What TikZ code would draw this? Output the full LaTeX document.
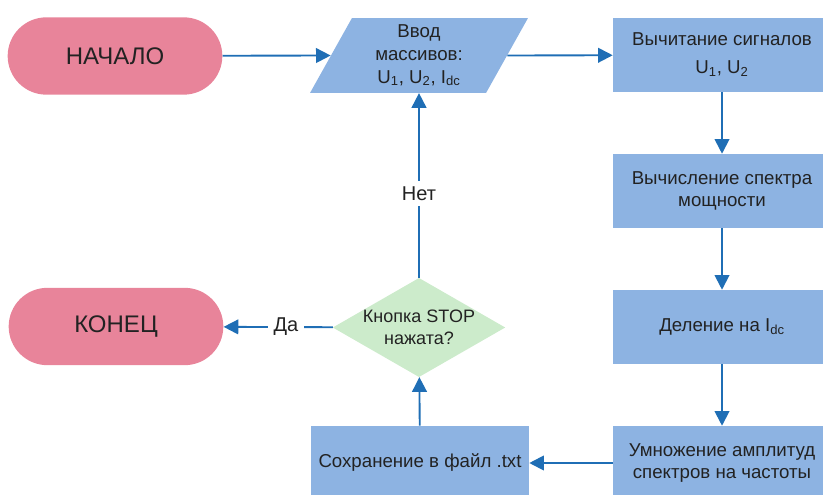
\documentclass[tikz,border=0pt]{standalone}
\usepackage{fontspec}
\setmainfont{Liberation Sans}
\usetikzlibrary{shapes.geometric,arrows.meta}
\definecolor{boxblue}{HTML}{8DB3E2}
\definecolor{termpink}{HTML}{E8849A}
\definecolor{askgreen}{HTML}{CCEBCB}
\definecolor{arrblue}{HTML}{1F6EB5}
\definecolor{txtgray}{HTML}{222222}
\begin{document}
\begin{tikzpicture}[x=0.75pt,y=-0.75pt,
  every node/.style={text=txtgray,align=center},
  proc/.style={rectangle,fill=boxblue,minimum width=163.5pt,minimum height=55.5pt,font=\fontsize{14}{17}\selectfont},
  term/.style={rectangle,rounded corners=29pt,fill=termpink,minimum width=161pt,minimum height=58pt,font=\fontsize{18}{22}\selectfont},
  io/.style={trapezium,trapezium left angle=66,trapezium right angle=114,trapezium stretches=true,fill=boxblue,minimum width=163.5pt,minimum height=56pt,inner sep=0pt,font=\fontsize{14}{17}\selectfont},
  ask/.style={diamond,aspect=1.74,fill=askgreen,minimum width=129pt,minimum height=74pt,inner sep=0pt,font=\fontsize{13.5}{16.5}\selectfont},
  arr/.style={draw=arrblue,line width=1.4pt,-{Triangle[length=11pt,width=11pt]}},
  lbl/.style={fill=white,inner sep=4pt,font=\fontsize{15}{18}\selectfont}]
 \useasboundingbox (0,0) rectangle (823,495);
 \node[term] (start) at (115,56) {НАЧАЛО};
 \node[io] (input) at (419,55.5) {Ввод\\массивов:\\U\textsubscript{1}, U\textsubscript{2}, I\textsubscript{dc}};
 \node[proc] (sub) at (722,55) {Вычитание сигналов\\[4pt]U\textsubscript{1}, U\textsubscript{2}};
 \node[proc] (spec) at (722,191) {Вычисление спектра\\мощности};
 \node[proc] (div) at (722,327) {Деление на I\textsubscript{dc}};
 \node[proc] (mul) at (722,463) {Умножение амплитуд\\спектров на частоты};
 \node[proc] (save) at (420,463) {Сохранение в файл .txt};
 \node[ask] (stop) at (419,327.5) {Кнопка STOP\\нажата?};
 \node[term] (finish) at (116,326.5) {КОНЕЦ};
 \draw[arr] (start) -- (input.left side);
 \draw[arr] (input.right side) -- (sub);
 \draw[arr] (sub) -- (spec);
 \draw[arr] (spec) -- (div);
 \draw[arr] (div) -- (mul);
 \draw[arr] (mul) -- (save);
 \draw[arr] (save) -- (stop);
 \draw[arr] (stop) -- node[lbl,pos=0.455]{Нет} (input);
 \draw[arr] (stop) -- node[lbl,pos=0.43]{Да} (finish);
\end{tikzpicture}
\end{document}
